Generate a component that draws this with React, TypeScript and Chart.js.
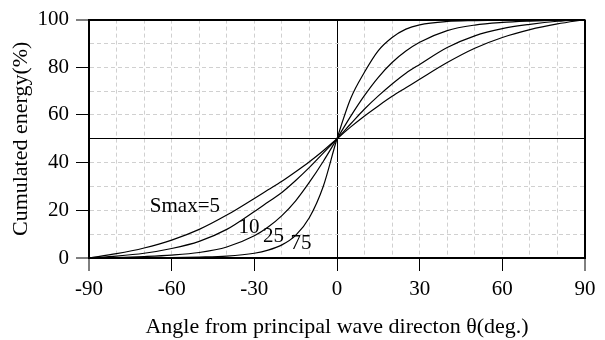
import React, { useEffect, useRef } from "react";
import { Chart, registerables } from "chart.js";

Chart.register(...registerables);

// Angle from principal wave direction (deg.)
const angles = [-90, -80, -70, -60, -50, -40, -30, -25, -20, -15, -10, -5, 0, 5, 10, 15, 20, 25, 30, 40, 50, 60, 70, 80, 90];

// Cumulated energy (%) for each Smax
const smax5 = [0, 1.8, 4.2, 7.5, 12, 18, 25, 28.6, 32.2, 36.2, 40.4, 45, 50, 55, 59.6, 63.8, 67.8, 71.4, 75, 82, 88, 92.5, 95.8, 98.2, 100];
const smax10 = [0, 0.8, 2, 4, 7, 12, 19.5, 23.5, 27.5, 32.5, 38, 44, 50, 56.3, 62.5, 68, 73, 77.5, 81.2, 88.3, 93.2, 96.2, 98, 99.3, 100];
const smax25 = [0, 0.2, 0.6, 1.2, 2.3, 4.6, 9.3, 13, 17.8, 24, 31.8, 40.5, 50, 59.5, 68.2, 75.8, 82, 86.8, 90.5, 95.4, 97.7, 98.8, 99.4, 99.8, 100];
const smax75 = [0, 0, 0.1, 0.2, 0.4, 0.8, 2, 3.3, 5.5, 9.5, 17, 30, 50, 67, 78, 87, 92.5, 96, 97.8, 99.2, 99.6, 99.8, 99.9, 100, 100];

const series = [smax5, smax10, smax25, smax75];

// Curve labels placed in data coordinates
const curveLabels = ["Smax=5", "10", "25", "75"];
const labelAngles = [-55.2, -31.9, -23.0, -13.1];
const labelValues = [21.7, 13.0, 8.9, 6.0];

const xMajorStep = 30;
const yMajorStep = 20;

const xTitle = "Angle from principal wave directon θ(deg.)";
const yTitle = "Cumulated energy(%)";

const FONT = "'Liberation Serif', 'Times New Roman', Times, serif";

export default function App() {
  const ref = useRef<HTMLCanvasElement>(null);

  useEffect(() => {
    if (!ref.current) return;

    const labelPlugin = {
      id: "curveLabels",
      afterDatasetsDraw(chart: any) {
        const { ctx, scales } = chart;
        const xs = scales.x;
        const ys = scales.y;
        ctx.save();
        ctx.font = `21px ${FONT}`;
        ctx.fillStyle = "#000";
        ctx.textAlign = "center";
        ctx.textBaseline = "middle";
        curveLabels.forEach((t, i) => {
          ctx.fillText(t, xs.getPixelForValue(labelAngles[i]), ys.getPixelForValue(labelValues[i]));
        });
        ctx.restore();
      },
    };

    const xSpecial = (v: number) => v === -90 || v === 0 || v === 90;
    const ySpecial = (v: number) => v === 0 || v === 50 || v === 100;
    const xEdge = (v: number) => v === -90 || v === 90;
    const yEdge = (v: number) => v === 0 || v === 100;

    const chart = new Chart(ref.current, {
      type: "line",
      data: {
        datasets: series.map((vals, si) => ({
          label: curveLabels[si],
          data: angles.map((a, i) => ({ x: a, y: vals[i] })),
          borderColor: "#000",
          borderWidth: 1.2,
          pointRadius: 0,
          fill: false,
          cubicInterpolationMode: "monotone" as const,
        })),
      },
      options: {
        responsive: false,
        animation: false,
        devicePixelRatio: 1,
        layout: { padding: { top: 16, right: 20, left: 0, bottom: 0 } },
        plugins: {
          legend: { display: false },
          tooltip: { enabled: false },
        },
        scales: {
          x: {
            type: "linear",
            min: -90,
            max: 90,
            afterFit: (s: any) => {
              s.height = 82;
            },
            ticks: {
              stepSize: 10,
              autoSkip: false,
              maxRotation: 0,
              color: "#000",
              padding: 6,
              font: { family: FONT, size: 21 },
              callback: (v: any) => (Number(v) % xMajorStep === 0 ? String(v) : ""),
            },
            grid: {
              color: (c: any) => (c.tick && xSpecial(c.tick.value) ? "#000" : "#d0d0d0"),
              lineWidth: (c: any) => (c.tick && xEdge(c.tick.value) ? 2 : 1),
              tickLength: 13,
              tickWidth: 1,
              tickColor: (c: any) => (c.tick && c.tick.value % xMajorStep === 0 ? "#000" : "rgba(0,0,0,0)"),
            },
            border: {
              display: true,
              color: "#000",
              width: 2,
              dash: (c: any) => (c.tick && xSpecial(c.tick.value) ? [] : [4, 3]),
            },
            title: {
              display: true,
              text: xTitle,
              color: "#000",
              font: { family: FONT, size: 22 },
              padding: { top: 2, bottom: 0 },
            },
          },
          y: {
            type: "linear",
            min: 0,
            max: 100,
            afterFit: (s: any) => {
              s.width = 89;
            },
            ticks: {
              stepSize: 10,
              autoSkip: false,
              color: "#000",
              padding: 7,
              font: { family: FONT, size: 21 },
              callback: (v: any) => (Number(v) % yMajorStep === 0 ? String(v) : ""),
            },
            grid: {
              color: (c: any) => (c.tick && ySpecial(c.tick.value) ? "#000" : "#d0d0d0"),
              lineWidth: (c: any) => (c.tick && yEdge(c.tick.value) ? 2 : 1),
              tickLength: 13,
              tickWidth: 1,
              tickColor: (c: any) => (c.tick && c.tick.value % yMajorStep === 0 ? "#000" : "rgba(0,0,0,0)"),
            },
            border: {
              display: true,
              color: "#000",
              width: 2,
              dash: (c: any) => (c.tick && ySpecial(c.tick.value) ? [] : [4, 3]),
            },
            title: {
              display: true,
              text: yTitle,
              color: "#000",
              font: { family: FONT, size: 22 },
              padding: { top: 8, bottom: 0 },
            },
          },
        },
      },
      plugins: [labelPlugin],
    } as any);

    return () => chart.destroy();
  }, []);

  return (
    <div style={{ position: "absolute", left: 0, top: 0, width: 605, height: 340 }}>
      <canvas ref={ref} width={605} height={340} style={{ display: "block" }} />
    </div>
  );
}
